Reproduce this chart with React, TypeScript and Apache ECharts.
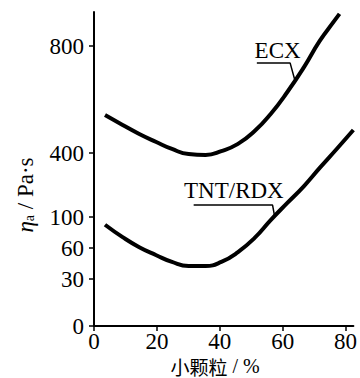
import React, { useEffect, useRef } from "react";
import * as echarts from "echarts";

// x = small-particle content (%)
const ecxX = [3.5, 9.1, 14.4, 19.8, 24.8, 30.1, 35.5, 40.5, 45.8, 51.1, 56.2, 61.5, 66.8, 71.8, 76.2, 78.1];
const ecxY = [542, 505, 471, 441, 415, 395, 391, 407, 434, 482, 546, 628, 721, 819, 890, 920];
const tntX = [3.5, 9.1, 14.4, 19.8, 24.8, 30.1, 35.5, 40.5, 45.8, 51.1, 56.2, 61.5, 66.8, 71.8, 77.2, 82.5];
const tntY = [90, 74, 61, 53, 46.5, 42.6, 42.6, 46.5, 56, 73, 96, 166, 245, 330, 415, 486];

// broken y scale: tick values and their relative positions on the axis
const yTicks = [0, 30, 60, 100, 400, 800];
const yTickPos = [0, 47, 78, 109, 173, 280];
const yAxisTop = 314;
const xTicks = [0, 20, 40, 60, 80];

// annotation leaders (data space)
const ecxLeaderX = [51.8, 62.4, 63.9];
const ecxLeaderY = [736, 736, 672];
const tntLeaderX = [31.7, 56.8, 57.4];
const tntLeaderY = [156, 156, 108];
const ecxLabel = { text: "ECX", x: 58.4, y: 783 };
const tntLabel = { text: "TNT/RDX", x: 44.5, y: 224 };

function toPos(v: number): number {
  const n = yTicks.length;
  for (let i = 0; i < n - 1; i++) {
    if (v <= yTicks[i + 1]) {
      const t = (v - yTicks[i]) / (yTicks[i + 1] - yTicks[i]);
      return yTickPos[i] + t * (yTickPos[i + 1] - yTickPos[i]);
    }
  }
  const slope = (yTickPos[n - 1] - yTickPos[n - 2]) / (yTicks[n - 1] - yTicks[n - 2]);
  return yTickPos[n - 1] + (v - yTicks[n - 1]) * slope;
}

const SERIF = "Liberation Serif";
const CJK = "Noto Sans CJK SC";

export default function App() {
  const ref = useRef<HTMLDivElement>(null);
  useEffect(() => {
    if (!ref.current) return;
    const chart = echarts.init(ref.current, undefined, { renderer: "svg" });
    const pts = (xs: number[], ys: number[]) => xs.map((x, i) => [x, toPos(ys[i])]);
    const richNum = { t: { fontFamily: SERIF, fontSize: 23, lineHeight: 20, color: "#000" } };
    const option: any = {
      animation: false,
      backgroundColor: "#ffffff",
      textStyle: { fontFamily: SERIF, fontSize: 23, color: "#000" },
      grid: { left: 94, right: 3, top: 12, bottom: 52, containLabel: false },
      xAxis: {
        type: "value",
        min: 0,
        max: 82.5,
        axisLine: { show: true, lineStyle: { color: "#000", width: 2 } },
        axisTick: { show: true, length: 5, inside: false, customValues: xTicks, lineStyle: { color: "#000", width: 1.5 } },
        axisLabel: {
          customValues: xTicks,
          color: "#000",
          fontFamily: SERIF,
          fontSize: 23,
          lineHeight: 20,
          margin: 5,
          rich: richNum,
          formatter: (v: number) => `{t|${v}}`,
        },
        splitLine: { show: false },
      },
      yAxis: {
        type: "value",
        min: 0,
        max: yAxisTop,
        axisLine: { show: true, lineStyle: { color: "#000", width: 2 } },
        axisTick: { show: true, length: 5, inside: false, customValues: yTickPos, lineStyle: { color: "#000", width: 1.5 } },
        axisLabel: {
          customValues: yTickPos,
          color: "#000",
          fontFamily: SERIF,
          fontSize: 23,
          lineHeight: 20,
          margin: 10,
          rich: richNum,
          formatter: (v: number) => {
            const i = yTickPos.findIndex((p) => Math.abs(p - v) < 0.01);
            return i >= 0 ? `{t|${yTicks[i]}}` : "";
          },
        },
        splitLine: { show: false },
      },
      series: [
        {
          name: "ECX",
          type: "line",
          data: pts(ecxX, ecxY),
          smooth: 0.5,
          symbol: "none",
          lineStyle: { color: "#000", width: 4 },
        },
        {
          name: "TNT/RDX",
          type: "line",
          data: pts(tntX, tntY),
          smooth: 0.5,
          symbol: "none",
          lineStyle: { color: "#000", width: 4 },
        },
        {
          type: "line",
          data: pts(ecxLeaderX, ecxLeaderY),
          symbol: "none",
          lineStyle: { color: "#000", width: 1.5 },
        },
        {
          type: "line",
          data: pts(tntLeaderX, tntLeaderY),
          symbol: "none",
          lineStyle: { color: "#000", width: 1.5 },
        },
      ],
    };
    chart.setOption(option);

    const lab = (l: { text: string; x: number; y: number }) => {
      const p = chart.convertToPixel({ gridIndex: 0 }, [l.x, toPos(l.y)]) as number[];
      return {
        type: "text",
        x: p[0],
        y: p[1],
        style: {
          text: l.text,
          fill: "#000",
          fontFamily: SERIF,
          fontSize: 23,
          align: "center",
          verticalAlign: "middle",
        },
      };
    };

    chart.setOption({
      graphic: [
        lab(ecxLabel),
        lab(tntLabel),
        {
          type: "text",
          x: 215,
          y: 366,
          style: {
            text: "{c|小颗粒}{n| / %}",
            fill: "#000",
            align: "center",
            verticalAlign: "middle",
            rich: {
              c: { fontFamily: CJK, fontSize: 19, lineHeight: 16, fill: "#000" },
              n: { fontFamily: SERIF, fontSize: 20, lineHeight: 16, fill: "#000" },
            },
          },
        },
        {
          type: "text",
          x: 25,
          y: 195,
          rotation: Math.PI / 2,
          style: {
            text: "{e|η}{s|a}{n| / Pa·s}",
            fill: "#000",
            align: "center",
            verticalAlign: "middle",
            rich: {
              e: { fontFamily: SERIF, fontSize: 23, fontStyle: "italic", fill: "#000" },
              s: { fontFamily: SERIF, fontSize: 14, fill: "#000", verticalAlign: "bottom", padding: [8, 0, 0, 0] },
              n: { fontFamily: SERIF, fontSize: 23, fill: "#000" },
            },
          },
        },
      ],
    });

    return () => chart.dispose();
  }, []);
  return <div ref={ref} style={{ width: 360, height: 378, position: "absolute", left: 0, top: 0 }} />;
}
